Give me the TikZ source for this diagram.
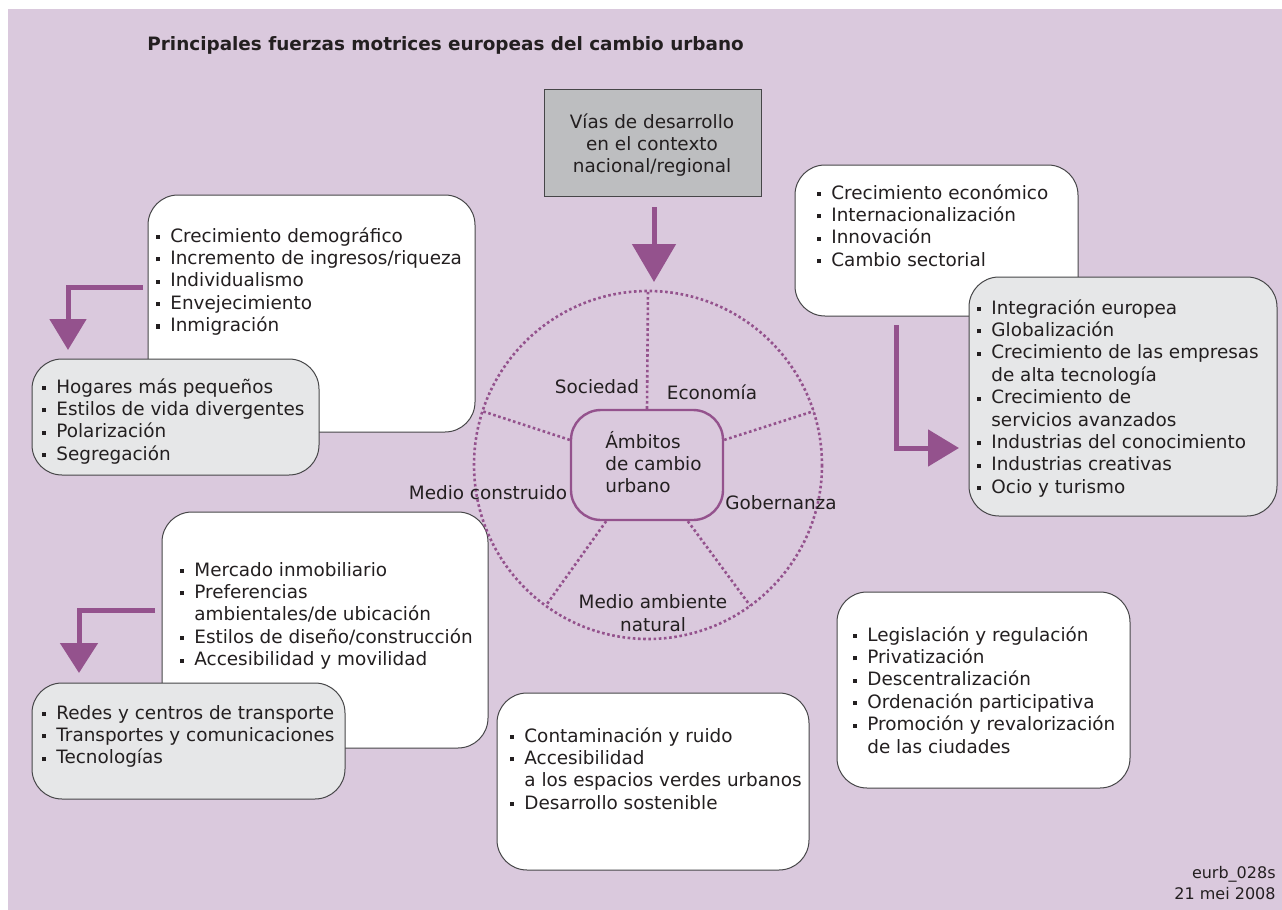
\documentclass[tikz,border=0pt]{standalone}
\usepackage{fontspec}
\setmainfont{DejaVu Sans}
\usetikzlibrary{arrows.meta,calc}
\definecolor{bgc}{RGB}{218,201,221}
\definecolor{purp}{RGB}{148,82,141}
\definecolor{lgray}{RGB}{230,231,232}
\definecolor{dgray}{RGB}{189,190,192}
\definecolor{bline}{RGB}{70,70,72}
\definecolor{txtc}{RGB}{35,31,32}
\newcommand\fst{\rule{0pt}{8pt}}
\newcommand\bl{\makebox[7pt][l]{\raisebox{1.6pt}{\rule{2pt}{2pt}}}}
\newcommand\ind{\hspace*{7pt}}
\begin{document}
\begin{tikzpicture}[x=0.5pt,y=-0.5pt,
  wbox/.style={draw=bline, line width=0.5pt, fill=white, rounded corners=15pt, inner sep=0pt},
  gbox/.style={draw=bline, line width=0.5pt, fill=lgray, rounded corners=15pt, inner sep=0pt},
  txt/.style={anchor=north west, inner sep=0pt, align=left, text=txtc, font=\fontsize{9.2}{11.2}\selectfont},
  lbl/.style={inner sep=0pt, text=txtc, font=\fontsize{9.2}{11.2}\selectfont},
  dotline/.style={draw=purp, line width=1.3pt, dash pattern=on 1.3pt off 1.3pt},
  fatarrow/.style={draw=purp, line width=2.5pt, line join=miter}
]
\useasboundingbox (0,0) rectangle (1282,910);
\fill[white] (0,0) rectangle (1282,910);
\fill[bgc] (8,9) rectangle (1282,910);

% title
\node[lbl, anchor=west, font=\fontsize{9.2}{11.2}\selectfont\bfseries] (title) at (147,45) {Principales fuerzas motrices europeas del cambio urbano};

% top grey box
\node[draw=bline, line width=0.5pt, fill=dgray, minimum width=108.5pt, minimum height=53.5pt, inner sep=0pt] (tg) at (652.5,142.5) {};
\node[lbl, align=center] (tgt) at (652,145) {Vías de desarrollo\\en el contexto\\nacional/regional};

% white boxes
\node[wbox, minimum width=163.5pt, minimum height=118.5pt] (uw) at (311.5,313.5) {};
\node[wbox, minimum width=141.5pt, minimum height=75.5pt] (tw) at (936.5,240.5) {};
\node[wbox, minimum width=163pt, minimum height=118pt] (lw) at (325,630) {};
\node[wbox, minimum width=156pt, minimum height=88.5pt] (mw) at (653,781.5) {};
\node[wbox, minimum width=146.5pt, minimum height=98pt] (rw) at (983.5,690) {};
% grey boxes
\node[gbox, minimum width=143.5pt, minimum height=58pt] (ug) at (175.5,417) {};
\node[gbox, minimum width=154pt, minimum height=119.5pt] (rg) at (1123,396.5) {};
\node[gbox, minimum width=156.5pt, minimum height=58pt] (lg) at (188.5,741) {};

% box texts
\node[txt] (uwt) at (156,225.7) {\fst\bl Crecimiento demográfico\\\bl Incremento de ingresos/riqueza\\\bl Individualismo\\\bl Envejecimiento\\\bl Inmigración};
\node[txt] (ugt) at (42,376.7) {\fst\bl Hogares más pequeños\\\bl Estilos de vida divergentes\\\bl Polarización\\\bl Segregación};
\node[txt] (twt) at (817,182.7) {\fst\bl Crecimiento económico\\\bl Internacionalización\\\bl Innovación\\\bl Cambio sectorial};
\node[txt] (rgt) at (977,297.7) {\fst\bl Integración europea\\\bl Globalización\\\bl Crecimiento de las empresas\\\ind de alta tecnología\\\bl Crecimiento de\\\ind servicios avanzados\\\bl Industrias del conocimiento\\\bl Industrias creativas\\\bl Ocio y turismo};
\node[txt] (lwt) at (180,559.7) {\fst\bl Mercado inmobiliario\\\bl Preferencias\\\ind ambientales/de ubicación\\\bl Estilos de diseño/construcción\\\bl Accesibilidad y movilidad};
\node[txt] (lgt) at (42,702.7) {\fst\bl Redes y centros de transporte\\\bl Transportes y comunicaciones\\\bl Tecnologías};
\node[txt] (mwt) at (510,725.7) {\fst\bl Contaminación y ruido\\\bl Accesibilidad\\\ind a los espacios verdes urbanos\\\bl Desarrollo sostenible};
\node[txt] (rwt) at (853,624.7) {\fst\bl Legislación y regulación\\\bl Privatización\\\bl Descentralización\\\bl Ordenación participativa\\\bl Promoción y revalorización\\\ind de las ciudades};

% circle and spokes
\coordinate (cc) at (648,465);
\draw[dotline] (cc) circle[radius=174];
\node[draw=purp, line width=1.2pt, rounded corners=15pt, minimum width=76pt, minimum height=55pt, inner sep=0pt] (amb) at (647,465) {};
\node[txt] (ambt) at (605,430.7) {\fst Ámbitos\\de cambio\\urbano};
\coordinate (s1) at ($(cc)+(-90:174)$);
\coordinate (s2) at ($(cc)+(-162:174)$);
\coordinate (s3) at ($(cc)+(-18:174)$);
\coordinate (s4) at ($(cc)+(126:174)$);
\coordinate (s5) at ($(cc)+(54:174)$);
\draw[dotline] (amb.90) -- (s1);
\draw[dotline] (amb.162) -- (s2);
\draw[dotline] (amb.18) -- (s3);
\draw[dotline] (amb.234) -- (s4);
\draw[dotline] (amb.306) -- (s5);

% domain labels
\node[lbl] (soc) at (597,387) {Sociedad};
\node[lbl] (eco) at (712,392) {Economía};
\node[lbl] (mco) at (488,493) {Medio construido};
\node[lbl] (gob) at (781,503) {Gobernanza};
\node[lbl, align=center] (man) at (653,613) {Medio ambiente\\natural};

% arrows
\coordinate (a0s) at (654,207);
\coordinate (a0e) at (654,282);
\draw[fatarrow, -{Triangle[width=21.5pt,length=19pt]}] (a0s) -- (a0e);
\coordinate (a1s) at (143,287);
\coordinate (a1e) at (68,350);
\draw[fatarrow, -{Triangle[width=18pt,length=15.5pt]}] (a1s) -| (a1e);
\coordinate (a2s) at (155,610);
\coordinate (a2e) at (79,673);
\draw[fatarrow, -{Triangle[width=18.5pt,length=15pt]}] (a2s) -| (a2e);
\coordinate (a3s) at (896,325);
\coordinate (a3e) at (959,448);
\draw[fatarrow, -{Triangle[width=18pt,length=15.5pt]}] (a3s) |- (a3e);

% footer
\node[lbl, anchor=east, align=right, font=\fontsize{8}{10.5}\selectfont] (foot) at (1276,883) {eurb\_028s\\21 mei 2008};
\end{tikzpicture}
\end{document}
